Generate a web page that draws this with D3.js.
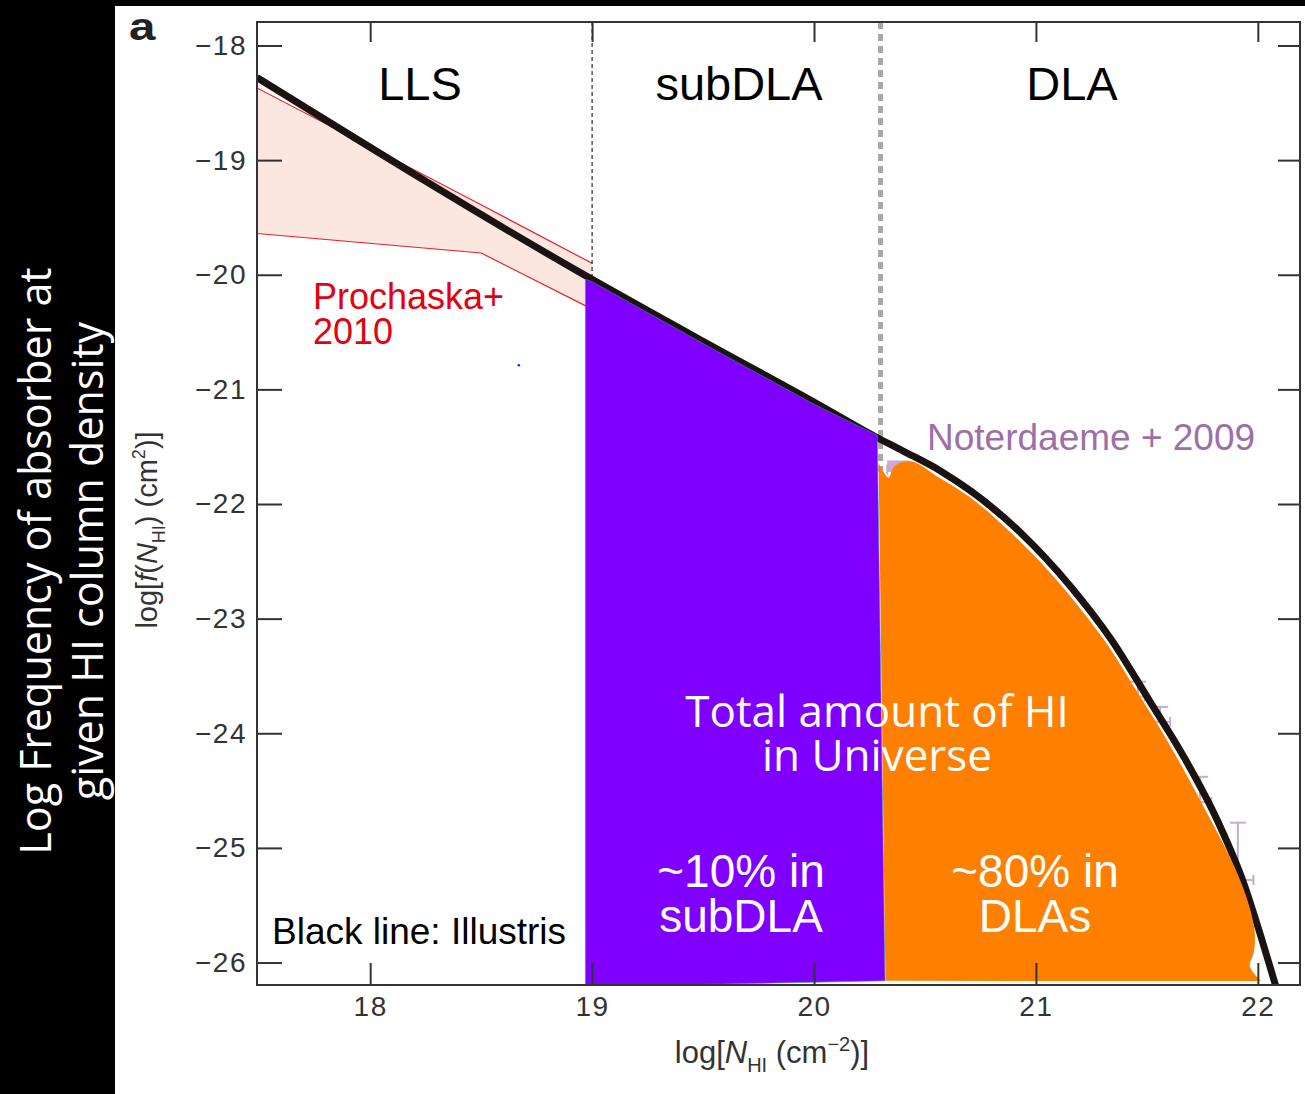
<!DOCTYPE html>
<html>
<head>
<meta charset="utf-8">
<script src="https://cdn.jsdelivr.net/npm/d3@7"></script>
<style>
  body { margin: 0; background: #fff; }
  svg { display: block; }
</style>
</head>
<body>
<div id="chart"></div>
<script>
// ---- data ----
const xTicks = [18, 19, 20, 21, 22]
const yTicks = [-18, -19, -20, -21, -22, -23, -24, -25, -26]

// Illustris column density distribution (black line)
const illX = [17.49, 19.0, 19.5, 20.0, 20.277, 20.404, 20.57, 20.706, 20.931, 21.157, 21.337, 21.517, 21.666, 21.82, 21.937, 22.014, 22.072, 22.126]
const illY = [-18.28, -20.04, -20.58, -21.11, -21.413, -21.54, -21.711, -21.886, -22.25, -22.721, -23.175, -23.733, -24.204, -24.77, -25.311, -25.773, -26.148, -26.497]

// Prochaska+2010 band
const proX = [17.49, 18.5, 19.0]
const proHi = [-18.37, -19.39, -19.90]
const proLo = [-19.64, -19.81, -20.30]

// subDLA share (purple polygon)
const subX = [18.97, 19.0, 19.5, 20.0, 20.285, 20.32, 18.97]
const subY = [-20.04, -20.06, -20.60, -21.13, -21.40, -26.16, -26.21]

// DLA share (orange polygon): curved top edge, then straight bottom/left edges
const dlaX = [20.291, 20.336, 20.358, 20.39, 20.444, 20.557, 20.706, 20.873, 21.08, 21.306, 21.441, 21.594, 21.743, 21.892, 21.959, 21.986, 21.982, 21.964, 22.014]
const dlaY = [-21.64, -21.77, -21.68, -21.64, -21.63, -21.762, -21.945, -22.224, -22.634, -23.183, -23.593, -24.072, -24.595, -25.153, -25.493, -25.737, -25.911, -26.033, -26.161]
const dlaBaseX = [20.322]
const dlaBaseY = [-26.16]

// Noterdaeme+2009 points (bin centre, bin half width, value, error bar top)
const ntX = [20.38, 20.6, 20.85, 21.1, 21.3, 21.46, 21.56, 21.74, 21.91]
const ntW = [0.05, 0.05, 0.05, 0.05, 0.04, 0.03, 0.045, 0.05, 0.07]
const ntY = [-21.7, -22.0, -22.4, -22.95, -23.45, -23.68, -23.9, -24.6, -25.28]
const ntTop = [-21.64, -21.9, -22.3, -22.85, -23.35, -23.55, -23.77, -24.38, -24.78]

// stray mark in the LLS panel
const strayX = [18.67]
const strayY = [-20.79]

// ---- layout ----
const W = 1305, H = 1094
const plot = { left: 257, right: 1300, top: 22, bottom: 985 }

const x = d3.scaleLinear().domain([17.49, 22.19]).range([plot.left, plot.right])
const y = d3.scaleLinear().domain([-17.795, -26.196]).range([plot.top, plot.bottom])

const svg = d3.select("#chart").append("svg")
    .attr("width", W)
    .attr("height", H)

svg.append("rect").attr("width", W).attr("height", H).attr("fill", "#fff")
// black strips (left + top)
svg.append("rect").attr("x", 0).attr("y", 0).attr("width", 115).attr("height", H).attr("fill", "#000")
svg.append("rect").attr("x", 0).attr("y", 0).attr("width", W).attr("height", 6).attr("fill", "#000")

svg.append("clipPath").attr("id", "clip")
    .append("rect")
    .attr("x", plot.left).attr("y", plot.top)
    .attr("width", plot.right - plot.left).attr("height", plot.bottom - plot.top)

const g = svg.append("g").attr("clip-path", "url(#clip)")

// Prochaska band
const band = d3.area()
    .x((d, i) => x(proX[i]))
    .y0((d, i) => y(proLo[i]))
    .y1((d, i) => y(proHi[i]))
g.append("path").datum(proX).attr("d", band).attr("fill", "#fbe6e0")

const lineOf = (xs, ys) => d3.line().x((d, i) => x(xs[i])).y((d, i) => y(ys[i]))(xs)
g.append("path").attr("d", lineOf(proX, proHi)).attr("fill", "none").attr("stroke", "#e8202a").attr("stroke-width", 1.2)
g.append("path").attr("d", lineOf(proX, proLo)).attr("fill", "none").attr("stroke", "#e8202a").attr("stroke-width", 1.2)

g.selectAll(".stray").data(strayX).join("circle")
    .attr("cx", d => x(d)).attr("cy", (d, i) => y(strayY[i]))
    .attr("r", 1.3).attr("fill", "#1030d0")

// dashed separators
g.append("line")
    .attr("x1", x(19)).attr("x2", x(19))
    .attr("y1", plot.top).attr("y2", y(-20.02))
    .attr("stroke", "#000").attr("stroke-width", 1).attr("stroke-dasharray", "4,3")
g.append("line")
    .attr("x1", x(20.3)).attr("x2", x(20.3))
    .attr("y1", plot.top).attr("y2", y(-21.72))
    .attr("stroke", "#a8a8a8").attr("stroke-width", 5).attr("stroke-dasharray", "7,5")

// Noterdaeme error bars
const nt = g.append("g").attr("stroke", "#c4aed0").attr("stroke-width", 2).attr("fill", "none")
ntX.forEach((cx, i) => {
    const px = x(cx), py = y(ntY[i]), pt = y(ntTop[i])
    const x0 = x(cx - ntW[i]), x1 = x(cx + ntW[i])
    nt.append("line").attr("x1", x0).attr("x2", x1).attr("y1", py).attr("y2", py)
    nt.append("line").attr("x1", x0).attr("x2", x0).attr("y1", py - 5).attr("y2", py + 5)
    nt.append("line").attr("x1", x1).attr("x2", x1).attr("y1", py - 5).attr("y2", py + 5)
    nt.append("line").attr("x1", px).attr("x2", px).attr("y1", pt).attr("y2", py)
    nt.append("line").attr("x1", px - 8).attr("x2", px + 8).attr("y1", pt).attr("y2", pt)
})
g.append("rect")
    .attr("x", x(20.33)).attr("y", y(-21.62))
    .attr("width", x(20.43) - x(20.33)).attr("height", y(-21.72) - y(-21.62))
    .attr("fill", "#c9a9d6")

// Illustris line
g.append("path")
    .attr("d", d3.line().x((d, i) => x(illX[i])).y((d, i) => y(illY[i])).curve(d3.curveMonotoneX)(illX))
    .attr("fill", "none")
    .attr("stroke", "#1a1311")
    .attr("stroke-width", 7)

// subDLA and DLA shares
g.append("path")
    .attr("d", lineOf(subX, subY) + "Z")
    .attr("fill", "#7f00ff")
    .attr("stroke", "#3a8fa0").attr("stroke-width", 0.6)
const dlaTop = d3.line().x((d, i) => x(dlaX[i])).y((d, i) => y(dlaY[i])).curve(d3.curveCatmullRom)(dlaX)
svg.append("path")
    .attr("d", dlaTop + dlaBaseX.map((d, i) => `L${x(d)},${y(dlaBaseY[i])}`).join("") + "Z")
    .attr("fill", "#ff8000")

// frame
svg.append("rect")
    .attr("x", plot.left).attr("y", plot.top)
    .attr("width", plot.right - plot.left).attr("height", plot.bottom - plot.top)
    .attr("fill", "none").attr("stroke", "#333").attr("stroke-width", 2)

// axes
const fmt = d => (d < 0 ? "\u2212" : "") + Math.abs(d)
const styleAxis = sel => {
    sel.select(".domain").remove()
    sel.selectAll(".tick line").attr("stroke", "#333").attr("stroke-width", 2)
    sel.selectAll(".tick text")
        .attr("fill", "#333")
        .style("font-family", "'Liberation Sans', Arial, sans-serif")
        .style("font-size", "28px")
        .style("letter-spacing", "1.5px")
}

svg.append("g").attr("transform", `translate(${plot.left},0)`)
    .call(d3.axisLeft(y).tickValues(yTicks).tickSizeInner(-25).tickSizeOuter(0).tickPadding(10).tickFormat(fmt))
    .call(styleAxis)
svg.append("g").attr("transform", `translate(${plot.right},0)`)
    .call(d3.axisRight(y).tickValues(yTicks).tickSizeInner(-22).tickSizeOuter(0).tickFormat(""))
    .call(styleAxis)
svg.append("g").attr("transform", `translate(0,${plot.bottom})`)
    .call(d3.axisBottom(x).tickValues(xTicks).tickSizeInner(-22).tickSizeOuter(0).tickPadding(11).tickFormat(d3.format("d")))
    .call(styleAxis)
svg.append("g").attr("transform", `translate(0,${plot.top})`)
    .call(d3.axisTop(x).tickValues(xTicks).tickSizeInner(-20).tickSizeOuter(0).tickFormat(""))
    .call(styleAxis)

// axis titles
const helv = "'Liberation Sans', Arial, sans-serif"
const xt = svg.append("text")
    .attr("x", 772).attr("y", 1063)
    .attr("text-anchor", "middle")
    .attr("fill", "#333")
    .style("font-family", helv).style("font-size", "31px")
xt.append("tspan").text("log[")
xt.append("tspan").text("N").style("font-style", "italic")
xt.append("tspan").text("HI").attr("dy", 9).style("font-size", "20px")
xt.append("tspan").text(" (cm").attr("dy", -9)
xt.append("tspan").text("\u22122").attr("dy", -12).style("font-size", "20px")
xt.append("tspan").text(")]").attr("dy", 12)

const yt = svg.append("text")
    .attr("transform", "translate(157,530) rotate(-90)")
    .attr("text-anchor", "middle")
    .attr("fill", "#333")
    .style("font-family", helv).style("font-size", "29px")
yt.append("tspan").text("log[")
yt.append("tspan").text("f").style("font-style", "italic")
yt.append("tspan").text("(")
yt.append("tspan").text("N").style("font-style", "italic")
yt.append("tspan").text("HI").attr("dy", 8).style("font-size", "18px")
yt.append("tspan").text(") (cm").attr("dy", -8)
yt.append("tspan").text("2").attr("dy", -12).style("font-size", "18px")
yt.append("tspan").text(")]").attr("dy", 12)

// panel letter
svg.append("text")
    .attr("transform", "translate(129,40) scale(1.25,1)")
    .attr("fill", "#222")
    .style("font-family", helv).style("font-size", "38px").style("font-weight", "bold")
    .text("a")

// text blocks (one text element per block, one tspan per line)
const block = (lines, cx, cy, lh, size, color, family, anchor = "middle") => {
    const t = svg.append("text")
        .attr("text-anchor", anchor)
        .attr("fill", color)
        .style("font-family", family)
        .style("font-size", size + "px")
    lines.forEach((s, i) => t.append("tspan").attr("x", cx).attr("y", cy + i * lh).text(s))
    return t
}

block(["LLS"], 420, 100, 0, 47, "#000", helv)
block(["subDLA"], 739, 100, 0, 47, "#000", helv)
block(["DLA"], 1072, 100, 0, 47, "#000", helv)

block(["Prochaska+", "2010"], 313, 309, 35, 36, "#e3000f", helv, "start")
block(["Noterdaeme + 2009"], 927, 450, 0, 37, "#9d6fa9", helv, "start")
block(["Black line: Illustris"], 272, 944, 0, 37, "#000", helv, "start")

const open = "'Open Sans', sans-serif"
block(["Total amount of HI", "in Universe"], 877, 727, 44, 44, "#fff", open)
block(["~10% in", "subDLA"], 741, 887, 45, 46, "#fff", helv)
block(["~80% in", "DLAs"], 1035, 887, 45, 46, "#fff", helv)

// left strip title
const side = svg.append("text")
    .attr("transform", "translate(0,561) rotate(-90)")
    .attr("text-anchor", "middle")
    .attr("fill", "#fff")
    .style("font-family", open)
    .style("font-size", "43px")
side.append("tspan").attr("x", 0).attr("y", 51).text("Log Frequency of absorber at")
side.append("tspan").attr("x", 0).attr("y", 103).text("given HI column density")
</script>
</body>
</html>
